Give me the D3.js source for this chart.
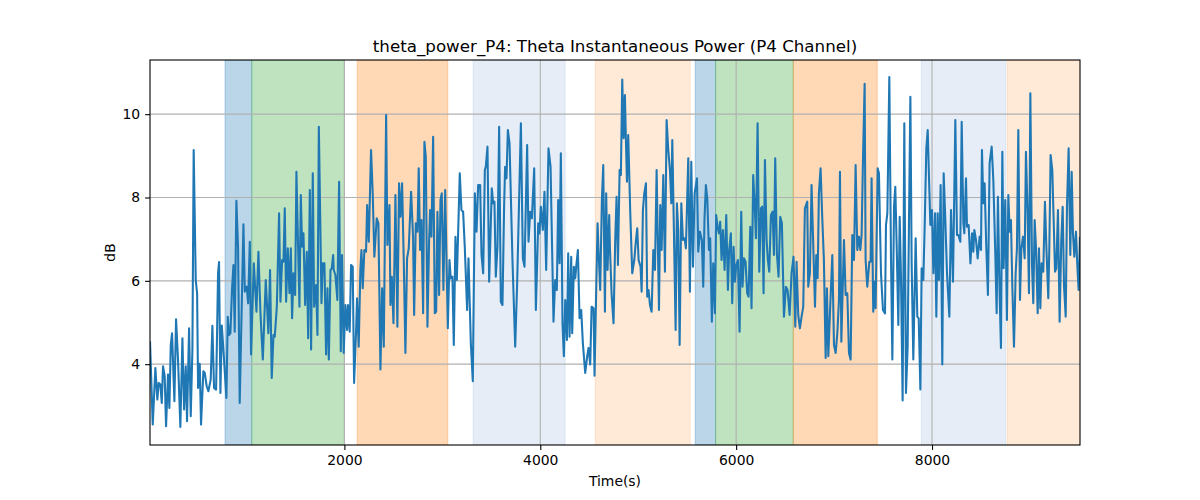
<!DOCTYPE html>
<html>
<head>
<meta charset="utf-8">
<script src="https://cdn.jsdelivr.net/npm/d3@7"></script>
<style>
  body { margin: 0; background: #fff; }
  text { font-family: "DejaVu Sans", sans-serif; fill: #000; }
</style>
</head>
<body>
<div id="chart"></div>
<script>
const width = 1200;
const height = 500;

const title = "theta_power_P4: Theta Instantaneous Power (P4 Channel)";
const xTicks = [2000, 4000, 6000, 8000];
const yTicks = [4, 6, 8, 10];

// shaded segments: start, end, kind
const spanStart = [781, 1054, 2130, 3315, 4561, 5582, 5790, 6583, 7891, 8769];
const spanEnd   = [1054, 2000, 3056, 4254, 5531, 5790, 6583, 7441, 8754, 9600];
const spanKind  = ["blue", "green", "orange", "lightblue", "lightorange",
                   "blue", "green", "orange", "lightblue", "lightorange"];

// time (s) and power (dB)
const times = [
  15, 43, 70, 90, 104, 121, 135, 148, 165, 179, 199, 213, 227, 240, 264, 281, 301, 325, 346, 363,
  380, 393, 414, 431, 448, 461, 482, 496, 506, 523, 536, 560, 574, 594, 611, 635, 652, 669, 690, 710,
  720, 734, 748, 771, 795, 809, 822, 836, 853, 867, 880, 897, 914, 931,
  969, 983, 1003, 1017, 1034, 1047, 1075, 1102, 1122, 1143, 1167, 1197, 1224, 1241, 1258, 1276, 1289, 1310, 1333, 1347,
  1364, 1378, 1391, 1405, 1422, 1439, 1453, 1466, 1480, 1497, 1510, 1541, 1555, 1568, 1582, 1599, 1616, 1630, 1647, 1660,
  1677, 1691, 1711, 1725, 1739, 1766, 1779, 1796, 1813, 1827, 1841, 1858, 1871, 1885,
  1891, 1908, 1928, 1946, 1963, 1976, 1993, 2010, 2027, 2037, 2054, 2068, 2085, 2099, 2119, 2129, 2146, 2163, 2174, 2187,
  2204, 2221, 2232, 2249, 2272, 2289, 2306, 2330, 2347, 2368, 2385, 2402, 2426, 2439, 2460, 2470, 2484, 2501, 2521, 2541,
  2558, 2572, 2589, 2606, 2623, 2640, 2657, 2681, 2701, 2712, 2729, 2746, 2759, 2773, 2787, 2804, 2817,
  2831, 2848, 2865, 2875, 2889, 2906, 2923, 2937, 2950, 2967, 2981, 2994, 3011, 3029, 3056, 3073, 3086, 3103, 3117, 3134,
  3148, 3178, 3195, 3212, 3229, 3253, 3267, 3291, 3311, 3332, 3349, 3366, 3386, 3400, 3417, 3434, 3444, 3461, 3478, 3505,
  3519, 3532, 3546, 3563, 3580, 3597, 3614, 3631, 3641, 3655, 3669, 3686, 3716, 3744, 3764,
  3802, 3822, 3839, 3866, 3880, 3897, 3914, 3938, 3955, 3979, 3992, 4006, 4026, 4043, 4060, 4084, 4105, 4135, 4152, 4169,
  4183, 4197, 4210, 4227, 4241, 4255, 4272, 4285, 4299, 4316, 4326, 4343, 4357, 4367, 4384, 4401, 4418, 4435, 4459, 4479,
  4493, 4510, 4524, 4544, 4554, 4571, 4585, 4598, 4612, 4629, 4643, 4660, 4673, 4687, 4704,
  4711, 4728, 4748, 4766, 4779, 4793, 4810, 4823, 4837, 4851, 4864, 4874, 4885, 4898, 4919, 4939, 4960, 4977, 4990, 5004,
  5024, 5035, 5048, 5062, 5079, 5092, 5106, 5120, 5137, 5154, 5171, 5188, 5212, 5225, 5239, 5256, 5273, 5290, 5307, 5324,
  5338, 5348, 5365, 5382, 5395, 5409, 5423, 5440, 5457, 5474, 5487, 5511, 5528, 5542, 5559, 5576, 5600, 5613, 5630, 5650,
  5664, 5677, 5691, 5705, 5722, 5735, 5752, 5766, 5783, 5796, 5810, 5824, 5837, 5851, 5865, 5882, 5899, 5916, 5929, 5946,
  5960, 5974, 5987, 6001, 6018, 6035, 6052, 6065, 6079, 6096, 6113, 6127, 6144, 6157, 6174, 6188, 6202, 6219, 6236, 6253,
  6266, 6280, 6294, 6311, 6324, 6338, 6355, 6372, 6386, 6399, 6416, 6433, 6450, 6467, 6488, 6508, 6525, 6546, 6566, 6586,
  6604, 6617, 6634, 6651, 6668, 6685, 6702, 6726, 6736, 6753, 6770, 6784, 6805, 6818, 6832, 6845, 6862, 6879, 6896, 6914,
  6927, 6941, 6958, 6982, 6999, 7016, 7033, 7050, 7060, 7074, 7101, 7118, 7135, 7152, 7169, 7186, 7203, 7220, 7237, 7254,
  7268, 7281, 7295, 7312, 7322, 7339, 7360, 7373, 7383, 7400, 7414, 7424, 7445, 7458, 7479, 7499, 7520,
  7530, 7544, 7564, 7581, 7595, 7612, 7625, 7639, 7656, 7670, 7683, 7700, 7717, 7734, 7751, 7765, 7779, 7792, 7809, 7833,
  7850, 7864, 7881, 7894, 7911, 7925, 7942, 7956, 7969, 7983, 8000, 8014, 8031, 8044, 8058, 8071, 8088, 8105, 8119, 8133,
  8153, 8177, 8194, 8214, 8228, 8238, 8255, 8269, 8289, 8303, 8320, 8330, 8347, 8357, 8374, 8392, 8409, 8422, 8432, 8449, 8466,
  8486, 8500, 8510, 8524, 8537, 8554, 8571, 8588, 8609, 8626, 8646, 8660, 8673, 8690, 8704, 8718, 8731, 8748, 8765, 8779,
  8793, 8806, 8820, 8837, 8854, 8867, 8881, 8898, 8912, 8929, 8946, 8959, 8976, 8990, 9004, 9021, 9034, 9048, 9062, 9079,
  9092, 9106, 9119, 9136, 9153, 9170, 9187, 9198, 9211, 9228, 9242, 9256, 9269, 9286, 9303, 9320, 9334, 9348, 9365, 9378,
  9395, 9412, 9426, 9439, 9453, 9470, 9484, 9497, 9511
];

const power = [
  4.55, 2.55, 3.91, 3.15, 3.55, 3.51, 3.07, 3.95, 3.71, 2.51, 3.75, 2.95, 4.46, 4.74, 3.11, 5.08, 4.11, 2.49, 4.62, 2.91,
  3.95, 2.63, 4.86, 2.75, 4.35, 9.14, 6.02, 5.70, 3.43, 4.01, 2.55, 3.83, 3.79, 3.47, 3.35, 3.63, 4.92, 3.43, 3.39, 6.18,
  6.45, 3.31, 4.93, 4.11, 3.19, 5.14, 4.70, 4.74, 5.82, 6.38, 4.78, 7.92, 6.82, 3.07,
  7.36, 5.74, 5.86, 5.46, 6.94, 4.23, 6.42, 5.26, 6.70, 5.22, 4.11, 6.02, 4.74, 6.26, 3.67, 4.70, 4.66, 5.38, 7.62, 5.50,
  6.50, 6.46, 7.74, 5.50, 6.78, 5.70, 6.78, 5.10, 6.18, 5.66, 8.62, 5.38, 8.06, 6.82, 7.14, 5.42, 6.70, 4.62, 8.18, 4.35,
  8.58, 5.38, 5.90, 4.70, 9.70, 5.46, 6.42, 6.42, 4.23, 5.82, 4.11, 6.26, 6.30, 6.62,
  6.26, 6.14, 5.54, 8.38, 4.31, 6.62, 4.27, 5.42, 4.82, 5.42, 4.78, 6.38, 6.34, 3.55, 4.78, 5.58, 4.42, 6.26, 6.74, 5.82,
  6.74, 6.70, 7.82, 6.94, 9.14, 8.10, 6.58, 7.50, 7.38, 3.87, 5.82, 4.42, 9.98, 6.86, 7.82, 5.42, 6.10, 4.98, 8.06, 4.90,
  8.34, 7.54, 8.34, 6.50, 4.27, 6.54, 6.78, 8.14, 7.06, 5.18, 7.38, 7.18, 8.70, 6.74, 7.46, 5.22, 9.34,
  8.98, 4.90, 6.98, 7.70, 7.06, 9.46, 5.22, 5.26, 7.66, 5.66, 7.94, 8.10, 5.78, 8.18, 4.86, 6.50, 6.06, 6.10, 4.46, 7.06,
  6.02, 8.58, 7.70, 7.66, 6.82, 5.30, 6.54, 4.50, 3.59, 8.10, 7.18, 8.30, 8.30, 6.62, 6.18, 8.66, 8.74, 9.22, 5.98, 8.22,
  7.86, 7.90, 6.10, 6.82, 9.70, 5.50, 5.42, 7.82, 8.74, 8.46, 9.62, 9.30, 6.50, 4.42, 5.94,
  9.78, 6.54, 6.34, 9.26, 6.94, 7.66, 7.50, 8.70, 5.30, 7.38, 7.14, 7.78, 7.22, 8.14, 6.26, 9.18, 8.74, 5.02, 6.02, 5.78,
  7.94, 6.42, 9.06, 4.98, 4.19, 5.54, 4.58, 6.66, 4.66, 6.58, 4.74, 6.34, 6.06, 6.34, 6.74, 5.10, 5.30, 4.50, 3.79, 4.19,
  4.39, 3.99, 5.38, 5.34, 3.72, 5.78, 7.38, 6.54, 5.78, 7.94, 8.78, 5.26, 8.10, 6.26, 7.58,
  6.82, 5.70, 4.98, 7.06, 8.02, 6.38, 8.66, 8.54, 10.83, 9.42, 10.46, 9.42, 8.38, 9.50, 7.62, 6.18, 6.50, 6.98, 7.26, 6.50,
  6.34, 5.74, 7.70, 8.10, 8.34, 5.62, 5.78, 5.42, 5.26, 6.74, 6.26, 8.66, 5.30, 7.82, 6.74, 8.54, 6.22, 9.86, 9.14, 8.66,
  7.86, 9.38, 7.14, 4.82, 7.86, 7.22, 4.46, 7.86, 6.98, 7.02, 6.78, 8.94, 5.74, 8.86, 6.34, 8.10, 8.46, 6.70, 7.18, 6.98,
  5.86, 7.50, 8.30, 7.98, 6.74, 7.02, 5.02, 6.42, 5.22, 7.58, 7.30, 7.14, 7.42, 6.50, 7.22, 6.26, 7.58, 5.78, 6.74, 7.14,
  5.46, 6.82, 5.98, 6.38, 6.50, 4.78, 7.66, 5.86, 6.54, 6.46, 5.70, 5.62, 7.30, 5.34, 8.54, 7.90, 7.02, 9.78, 6.22, 7.74,
  7.78, 5.70, 8.90, 6.98, 6.50, 6.22, 7.58, 7.66, 6.62, 8.94, 6.66, 6.10, 7.54, 7.38, 5.14, 5.86, 5.78, 5.18, 6.18, 6.58,
  4.90, 6.46, 5.18, 4.86, 5.14, 5.38, 7.74, 7.90, 5.86, 6.18, 8.30, 7.14, 5.38, 6.62, 6.06, 8.10, 8.70, 7.54, 6.50, 4.15,
  5.82, 4.19, 5.22, 6.62, 4.46, 4.27, 4.74, 5.54, 8.62, 4.54, 6.98, 5.66, 5.70, 4.27, 4.11, 7.10, 6.50, 8.78, 6.74, 7.06,
  6.74, 7.10, 8.90, 10.73, 6.50, 5.86, 6.46, 6.46, 8.46, 5.26, 5.98, 5.34, 8.70, 8.58, 6.18, 5.30, 5.22,
  7.34, 7.62, 10.89, 6.58, 4.11, 7.78, 8.26, 6.86, 4.94, 7.54, 6.10, 3.13, 9.78, 3.31, 4.42, 7.46, 10.42, 6.42, 4.11, 7.02,
  5.14, 5.10, 3.39, 6.30, 6.02, 7.30, 9.18, 9.62, 8.50, 7.34, 7.70, 6.18, 7.62, 5.14, 7.62, 6.02, 8.30, 3.99, 8.58, 7.66,
  6.18, 5.14, 7.70, 5.98, 8.22, 9.86, 7.10, 7.10, 6.94, 9.82, 7.38, 7.14, 8.46, 7.30, 7.34, 6.42, 7.14, 6.70, 7.22, 6.98, 6.54,
  7.06, 6.74, 9.14, 7.86, 8.34, 6.82, 5.66, 8.82, 9.22, 8.42, 6.66, 5.22, 8.02, 5.70, 4.39, 9.10, 6.30, 7.94, 5.06, 8.06,
  7.18, 7.46, 5.86, 4.42, 6.18, 6.78, 9.62, 5.54, 6.78, 7.06, 6.54, 9.10, 7.62, 5.70, 10.50, 6.38, 5.46, 7.46, 6.78, 5.22,
  6.78, 5.34, 6.42, 6.22, 7.90, 6.66, 5.58, 6.82, 9.02, 8.66, 7.46, 6.22, 6.30, 7.70, 5.02, 6.98, 7.78, 5.86, 5.14, 7.78,
  9.18, 6.62, 8.62, 7.14, 6.58, 7.18, 6.34, 5.78, 7.06
];

const spanColor = {
  blue: ["#1f77b4", 0.3],
  green: ["#2ca02c", 0.3],
  orange: ["#ff7f0e", 0.3],
  lightblue: ["#2f69bc", 0.12],
  lightorange: ["#ff7f0e", 0.16]
};

const margin = { left: 150, right: 120, top: 60, bottom: 55 };
const plotW = width - margin.left - margin.right;
const plotH = height - margin.top - margin.bottom;

const svg = d3.select("#chart")
  .append("svg")
  .attr("width", width)
  .attr("height", height);

const xScale = d3.scaleLinear()
  .domain([15, 9511])
  .range([margin.left, margin.left + plotW]);

const yScale = d3.scaleLinear()
  .domain([2.06, 11.3])
  .range([margin.top + plotH, margin.top]);

svg.append("clipPath")
  .attr("id", "clip")
  .append("rect")
  .attr("x", margin.left)
  .attr("y", margin.top)
  .attr("width", plotW)
  .attr("height", plotH);

const plot = svg.append("g").attr("clip-path", "url(#clip)");

/* spans */
plot.selectAll("rect.span")
  .data(spanStart.map((s, i) => ({ s: s, e: spanEnd[i], k: spanKind[i] })))
  .enter()
  .append("rect")
  .attr("class", "span")
  .attr("x", d => xScale(d.s))
  .attr("y", margin.top)
  .attr("width", d => xScale(d.e) - xScale(d.s))
  .attr("height", plotH)
  .style("fill", d => spanColor[d.k][0])
  .style("fill-opacity", d => spanColor[d.k][1])
  .style("stroke", d => spanColor[d.k][0])
  .style("stroke-opacity", d => spanColor[d.k][1])
  .style("stroke-width", 1);

/* grid */
plot.selectAll("line.xgrid")
  .data(xTicks)
  .enter()
  .append("line")
  .attr("x1", d => xScale(d))
  .attr("x2", d => xScale(d))
  .attr("y1", margin.top)
  .attr("y2", margin.top + plotH)
  .style("stroke", "#b0b0b0")
  .style("stroke-width", 1.1);

plot.selectAll("line.ygrid")
  .data(yTicks)
  .enter()
  .append("line")
  .attr("x1", margin.left)
  .attr("x2", margin.left + plotW)
  .attr("y1", d => yScale(d))
  .attr("y2", d => yScale(d))
  .style("stroke", "#b0b0b0")
  .style("stroke-width", 1.1);

/* trace */
const line = d3.line()
  .x((d, i) => xScale(times[i]))
  .y(d => yScale(d));

plot.append("path")
  .datum(power)
  .attr("d", line)
  .style("fill", "none")
  .style("stroke", "#1f77b4")
  .style("stroke-width", 2.08)
  .style("stroke-linejoin", "round");

/* axes */
const xAxis = d3.axisBottom(xScale).tickValues(xTicks).tickSize(4.9).tickPadding(4.9).tickFormat(d3.format("d"));
const yAxis = d3.axisLeft(yScale).tickValues(yTicks).tickSize(4.9).tickPadding(4.9).tickFormat(d3.format("d"));

const gx = svg.append("g")
  .attr("transform", "translate(0," + (margin.top + plotH) + ")")
  .call(xAxis);

const gy = svg.append("g")
  .attr("transform", "translate(" + margin.left + ",0)")
  .call(yAxis);

[gx, gy].forEach(g => {
  g.select(".domain").remove();
  g.selectAll(".tick line").style("stroke", "#000").style("stroke-width", 1.1);
  g.selectAll(".tick text").style("font-size", "13.9px").style("font-family", "DejaVu Sans");
});

svg.append("rect")
  .attr("x", margin.left)
  .attr("y", margin.top)
  .attr("width", plotW)
  .attr("height", plotH)
  .style("fill", "none")
  .style("stroke", "#000")
  .style("stroke-width", 1.1);

/* labels */
svg.append("text")
  .attr("x", margin.left + plotW / 2)
  .attr("y", margin.top - 8)
  .attr("text-anchor", "middle")
  .style("font-size", "16.7px")
  .text(title);

svg.append("text")
  .attr("x", margin.left + plotW / 2)
  .attr("y", 486)
  .attr("text-anchor", "middle")
  .style("font-size", "13.9px")
  .text("Time(s)");

svg.append("text")
  .attr("transform", "translate(115," + (margin.top + plotH / 2) + ") rotate(-90)")
  .attr("text-anchor", "middle")
  .style("font-size", "13.9px")
  .text("dB");
</script>
</body>
</html>
